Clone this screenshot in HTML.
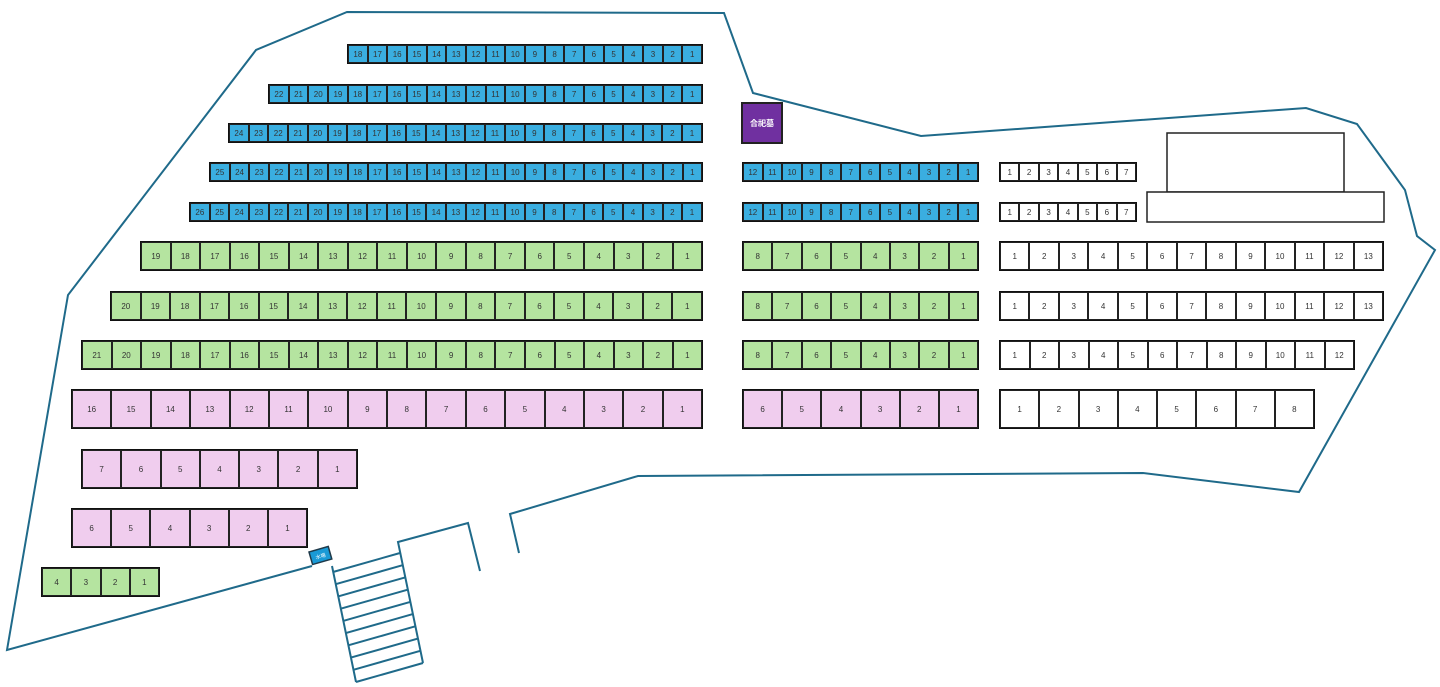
<!DOCTYPE html>
<html><head><meta charset="utf-8"><style>
body{margin:0;width:1440px;height:687px;background:#fff;position:relative;overflow:hidden;font-family:"Liberation Sans","Noto Sans CJK JP",sans-serif}
svg{position:absolute;left:0;top:0}
.r{position:absolute;display:flex;border:1.5px solid #111;box-sizing:border-box}
.r span{flex:1;border:1px solid #222;display:flex;align-items:center;justify-content:center;font-size:8px;color:#333;box-sizing:border-box}
.b span{background:#3aaee0}
.g span{background:#b5e4a0}
.p span{background:#f0cdee}
.w span{background:#fff}
</style></head><body>
<svg width="1440" height="687">
<g fill="none" stroke="#1f6a8a" stroke-width="2">
<polyline points="312,566 7,650 68,295 256,50 347,12 724,13 753,93 921,136 1306,108 1357,124 1405,190 1417,236 1435,250 1299,492 1143,473 638,476 510,514 519,553"/>
<polyline points="332,566 356,682"/>
<polyline points="423,663 398,542 468,523 480,571"/>
<line x1="333" y1="572" x2="400" y2="553"/>
<line x1="335.6" y1="584.2" x2="402.6" y2="565.2"/>
<line x1="338.1" y1="596.4" x2="405.1" y2="577.4"/>
<line x1="340.7" y1="608.7" x2="407.7" y2="589.7"/>
<line x1="343.2" y1="620.9" x2="410.2" y2="601.9"/>
<line x1="345.8" y1="633.1" x2="412.8" y2="614.1"/>
<line x1="348.3" y1="645.3" x2="415.3" y2="626.3"/>
<line x1="350.9" y1="657.6" x2="417.9" y2="638.6"/>
<line x1="353.4" y1="669.8" x2="420.4" y2="650.8"/>
<line x1="356" y1="682" x2="423" y2="663"/>
</g>
<g transform="translate(309,552) rotate(-16)"><rect width="20" height="13" fill="#1a9ad6" stroke="#1f3a4a" stroke-width="1.5"/><text x="10" y="9" font-size="5" fill="#fff" text-anchor="middle" font-family="Noto Sans CJK JP">水場</text></g>
<rect x="1167" y="133" width="177" height="59" fill="#fff" stroke="#222" stroke-width="1.5"/>
<rect x="1147" y="192" width="237" height="30" fill="#fff" stroke="#222" stroke-width="1.5"/>
<rect x="742" y="103" width="40" height="40" fill="#7030a0" stroke="#222" stroke-width="2"/>
<text x="762" y="126" font-size="8" fill="#fff" text-anchor="middle" font-family="Noto Sans CJK JP" font-weight="bold">合祀墓</text>
</svg>

<div class="r b" style="left:347px;top:44px;width:356px;height:20px"><span>18</span><span>17</span><span>16</span><span>15</span><span>14</span><span>13</span><span>12</span><span>11</span><span>10</span><span>9</span><span>8</span><span>7</span><span>6</span><span>5</span><span>4</span><span>3</span><span>2</span><span>1</span></div>
<div class="r b" style="left:268px;top:84px;width:435px;height:20px"><span>22</span><span>21</span><span>20</span><span>19</span><span>18</span><span>17</span><span>16</span><span>15</span><span>14</span><span>13</span><span>12</span><span>11</span><span>10</span><span>9</span><span>8</span><span>7</span><span>6</span><span>5</span><span>4</span><span>3</span><span>2</span><span>1</span></div>
<div class="r b" style="left:228px;top:123px;width:475px;height:20px"><span>24</span><span>23</span><span>22</span><span>21</span><span>20</span><span>19</span><span>18</span><span>17</span><span>16</span><span>15</span><span>14</span><span>13</span><span>12</span><span>11</span><span>10</span><span>9</span><span>8</span><span>7</span><span>6</span><span>5</span><span>4</span><span>3</span><span>2</span><span>1</span></div>
<div class="r b" style="left:209px;top:162px;width:494px;height:20px"><span>25</span><span>24</span><span>23</span><span>22</span><span>21</span><span>20</span><span>19</span><span>18</span><span>17</span><span>16</span><span>15</span><span>14</span><span>13</span><span>12</span><span>11</span><span>10</span><span>9</span><span>8</span><span>7</span><span>6</span><span>5</span><span>4</span><span>3</span><span>2</span><span>1</span></div>
<div class="r b" style="left:189px;top:202px;width:514px;height:20px"><span>26</span><span>25</span><span>24</span><span>23</span><span>22</span><span>21</span><span>20</span><span>19</span><span>18</span><span>17</span><span>16</span><span>15</span><span>14</span><span>13</span><span>12</span><span>11</span><span>10</span><span>9</span><span>8</span><span>7</span><span>6</span><span>5</span><span>4</span><span>3</span><span>2</span><span>1</span></div>

<div class="r g" style="left:140px;top:241px;width:563px;height:30px"><span>19</span><span>18</span><span>17</span><span>16</span><span>15</span><span>14</span><span>13</span><span>12</span><span>11</span><span>10</span><span>9</span><span>8</span><span>7</span><span>6</span><span>5</span><span>4</span><span>3</span><span>2</span><span>1</span></div>
<div class="r g" style="left:110px;top:291px;width:593px;height:30px"><span>20</span><span>19</span><span>18</span><span>17</span><span>16</span><span>15</span><span>14</span><span>13</span><span>12</span><span>11</span><span>10</span><span>9</span><span>8</span><span>7</span><span>6</span><span>5</span><span>4</span><span>3</span><span>2</span><span>1</span></div>
<div class="r g" style="left:81px;top:340px;width:622px;height:30px"><span>21</span><span>20</span><span>19</span><span>18</span><span>17</span><span>16</span><span>15</span><span>14</span><span>13</span><span>12</span><span>11</span><span>10</span><span>9</span><span>8</span><span>7</span><span>6</span><span>5</span><span>4</span><span>3</span><span>2</span><span>1</span></div>
<div class="r p" style="left:71px;top:389px;width:632px;height:40px"><span>16</span><span>15</span><span>14</span><span>13</span><span>12</span><span>11</span><span>10</span><span>9</span><span>8</span><span>7</span><span>6</span><span>5</span><span>4</span><span>3</span><span>2</span><span>1</span></div>
<div class="r p" style="left:81px;top:449px;width:277px;height:40px"><span>7</span><span>6</span><span>5</span><span>4</span><span>3</span><span>2</span><span>1</span></div>
<div class="r p" style="left:71px;top:508px;width:237px;height:40px"><span>6</span><span>5</span><span>4</span><span>3</span><span>2</span><span>1</span></div>
<div class="r g" style="left:41px;top:567px;width:119px;height:30px"><span>4</span><span>3</span><span>2</span><span>1</span></div>

<div class="r b" style="left:742px;top:162px;width:237px;height:20px"><span>12</span><span>11</span><span>10</span><span>9</span><span>8</span><span>7</span><span>6</span><span>5</span><span>4</span><span>3</span><span>2</span><span>1</span></div>
<div class="r b" style="left:742px;top:202px;width:237px;height:20px"><span>12</span><span>11</span><span>10</span><span>9</span><span>8</span><span>7</span><span>6</span><span>5</span><span>4</span><span>3</span><span>2</span><span>1</span></div>
<div class="r g" style="left:742px;top:241px;width:237px;height:30px"><span>8</span><span>7</span><span>6</span><span>5</span><span>4</span><span>3</span><span>2</span><span>1</span></div>
<div class="r g" style="left:742px;top:291px;width:237px;height:30px"><span>8</span><span>7</span><span>6</span><span>5</span><span>4</span><span>3</span><span>2</span><span>1</span></div>
<div class="r g" style="left:742px;top:340px;width:237px;height:30px"><span>8</span><span>7</span><span>6</span><span>5</span><span>4</span><span>3</span><span>2</span><span>1</span></div>
<div class="r p" style="left:742px;top:389px;width:237px;height:40px"><span>6</span><span>5</span><span>4</span><span>3</span><span>2</span><span>1</span></div>

<div class="r w" style="left:999px;top:162px;width:138px;height:20px"><span>1</span><span>2</span><span>3</span><span>4</span><span>5</span><span>6</span><span>7</span></div>
<div class="r w" style="left:999px;top:202px;width:138px;height:20px"><span>1</span><span>2</span><span>3</span><span>4</span><span>5</span><span>6</span><span>7</span></div>
<div class="r w" style="left:999px;top:241px;width:385px;height:30px"><span>1</span><span>2</span><span>3</span><span>4</span><span>5</span><span>6</span><span>7</span><span>8</span><span>9</span><span>10</span><span>11</span><span>12</span><span>13</span></div>
<div class="r w" style="left:999px;top:291px;width:385px;height:30px"><span>1</span><span>2</span><span>3</span><span>4</span><span>5</span><span>6</span><span>7</span><span>8</span><span>9</span><span>10</span><span>11</span><span>12</span><span>13</span></div>
<div class="r w" style="left:999px;top:340px;width:356px;height:30px"><span>1</span><span>2</span><span>3</span><span>4</span><span>5</span><span>6</span><span>7</span><span>8</span><span>9</span><span>10</span><span>11</span><span>12</span></div>
<div class="r w" style="left:999px;top:389px;width:316px;height:40px"><span>1</span><span>2</span><span>3</span><span>4</span><span>5</span><span>6</span><span>7</span><span>8</span></div>
</body></html>
